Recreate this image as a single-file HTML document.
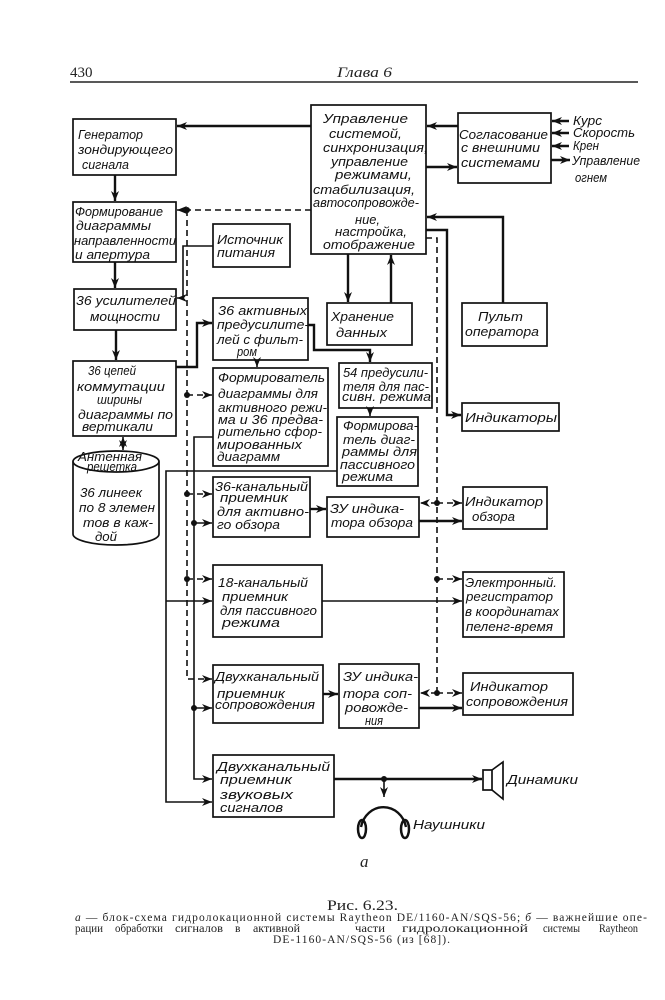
<!DOCTYPE html>
<html><head><meta charset="utf-8"><style>
html,body{margin:0;padding:0;background:#fff;}
svg{display:block;}
.t{font-family:"Liberation Sans","DejaVu Sans",sans-serif;font-style:italic;font-size:13px;fill:#111;}
.c{font-family:"Liberation Serif","DejaVu Serif",serif;font-size:11.5px;fill:#222;}
.b{fill:none;stroke:#111;stroke-width:1.7;}
.k{fill:none;stroke:#111;stroke-width:2.4;}
.n{fill:none;stroke:#111;stroke-width:1.6;}
.d{fill:none;stroke:#111;stroke-width:1.6;stroke-dasharray:6,4;}
</style></head><body>
<svg width="665" height="1000" viewBox="0 0 665 1000" xmlns="http://www.w3.org/2000/svg">
<defs>
<marker id="a" markerUnits="userSpaceOnUse" markerWidth="12" markerHeight="10" refX="10" refY="4" orient="auto"><path d="M0,0 L10,4 L0,8 L3,4 z" fill="#111"/></marker>
<marker id="s" markerUnits="userSpaceOnUse" markerWidth="12" markerHeight="10" refX="10" refY="4" orient="auto-start-reverse"><path d="M0,0 L10,4 L0,8 L3,4 z" fill="#111"/></marker>
</defs>

<!-- header -->
<text x="70" y="77" style="font-family:'Liberation Serif',serif;font-size:15px;fill:#222">430</text>
<text x="337" y="77" textLength="55" lengthAdjust="spacingAndGlyphs" style="font-family:'Liberation Serif',serif;font-style:italic;font-size:15px;fill:#222">Глава 6</text>
<line x1="70" y1="82" x2="638" y2="82" stroke="#222" stroke-width="1.5"/>

<!-- boxes -->
<rect class="b" x="73" y="119" width="103" height="56"/>
<rect class="b" x="73" y="202" width="103" height="60"/>
<rect class="b" x="74" y="289" width="102" height="41"/>
<rect class="b" x="73" y="361" width="103" height="75"/>
<rect class="b" x="213" y="224" width="77" height="43"/>
<rect class="b" x="311" y="105" width="115" height="149"/>
<rect class="b" x="458" y="113" width="93" height="70"/>
<rect class="b" x="327" y="303" width="85" height="42"/>
<rect class="b" x="462" y="303" width="85" height="43"/>
<rect class="b" x="213" y="298" width="95" height="62"/>
<rect class="b" x="213" y="368" width="115" height="98"/>
<rect class="b" x="339" y="363" width="93" height="45"/>
<rect class="b" x="337" y="417" width="81" height="69"/>
<rect class="b" x="462" y="403" width="97" height="28"/>
<rect class="b" x="213" y="477" width="97" height="60"/>
<rect class="b" x="327" y="497" width="92" height="40"/>
<rect class="b" x="463" y="487" width="84" height="42"/>
<rect class="b" x="213" y="565" width="109" height="72"/>
<rect class="b" x="463" y="572" width="101" height="65"/>
<rect class="b" x="213" y="665" width="110" height="58"/>
<rect class="b" x="339" y="664" width="80" height="64"/>
<rect class="b" x="463" y="673" width="110" height="42"/>
<rect class="b" x="213" y="755" width="121" height="62"/>

<!-- cylinder -->
<path class="b" d="M73,461.5 L73,534 A43,11 0 0 0 159,534 L159,461.5"/>
<ellipse class="b" cx="116" cy="461.5" rx="43" ry="10.5"/>

<!-- connectors left/top -->
<line class="k" x1="311" y1="126" x2="177" y2="126" marker-end="url(#a)"/>
<line class="k" x1="115" y1="175" x2="115" y2="201" marker-end="url(#a)"/>
<line class="k" x1="115" y1="262" x2="115" y2="288" marker-end="url(#a)"/>
<line class="k" x1="116" y1="330" x2="116" y2="360" marker-end="url(#a)"/>
<line class="n" x1="123" y1="437" x2="123" y2="450" marker-start="url(#s)" marker-end="url(#s)"/>
<polyline class="n" points="213,246 183,246 183,298 177,298" marker-end="url(#a)"/>
<!-- dashed from control -->
<polyline class="d" points="311,210 187,210 177,210" marker-end="url(#a)"/>
<polyline class="d" points="187,210 187,679 212,679" marker-end="url(#a)"/>
<line class="d" x1="187" y1="395" x2="212" y2="395" marker-end="url(#a)"/>
<line class="d" x1="187" y1="494" x2="212" y2="494" marker-end="url(#a)"/>
<line class="d" x1="187" y1="579" x2="212" y2="579" marker-end="url(#a)"/>
<circle cx="187" cy="210" r="3" fill="#111"/>
<circle cx="187" cy="395" r="3" fill="#111"/>
<circle cx="187" cy="494" r="3" fill="#111"/>
<circle cx="187" cy="579" r="3" fill="#111"/>
<!-- 36 цепей -> 36 active -->
<polyline class="k" points="176,367 197,367 197,323 212,323" marker-end="url(#a)"/>
<!-- 36 active -> 54 -->
<polyline class="k" points="308,325 314,325 314,350 370,350 370,362" marker-end="url(#a)"/>
<line class="n" x1="257" y1="360" x2="257" y2="367" marker-end="url(#a)"/>
<line class="n" x1="370" y1="408" x2="370" y2="416" marker-end="url(#a)"/>
<!-- form active -> receivers -->
<polyline class="n" points="213,437 194,437 194,779 212,779" marker-end="url(#a)"/>
<line class="n" x1="194" y1="523" x2="212" y2="523" marker-end="url(#a)"/>
<line class="n" x1="194" y1="708" x2="212" y2="708" marker-end="url(#a)"/>
<circle cx="194" cy="523" r="3" fill="#111"/>
<circle cx="194" cy="708" r="3" fill="#111"/>
<!-- form passive -> receivers -->
<polyline class="n" points="337,471 166,471 166,802 212,802" marker-end="url(#a)"/>
<line class="n" x1="166" y1="601" x2="212" y2="601" marker-end="url(#a)"/>
<!-- middle row connectors -->
<line class="k" x1="310" y1="509" x2="326" y2="509" marker-end="url(#a)"/>
<line class="k" x1="419" y1="521" x2="462" y2="521" marker-end="url(#a)"/>
<line class="n" x1="322" y1="601" x2="462" y2="601" marker-end="url(#a)"/>
<line class="k" x1="323" y1="694" x2="338" y2="694" marker-end="url(#a)"/>
<line class="k" x1="419" y1="708" x2="462" y2="708" marker-end="url(#a)"/>
<!-- right dashed bus -->
<polyline class="d" points="426,238 437,238 437,693"/>
<line class="d" x1="437" y1="503" x2="420" y2="503" marker-end="url(#a)"/>
<line class="d" x1="437" y1="503" x2="462" y2="503" marker-end="url(#a)"/>
<line class="d" x1="437" y1="579" x2="462" y2="579" marker-end="url(#a)"/>
<line class="d" x1="437" y1="693" x2="420" y2="693" marker-end="url(#a)"/>
<line class="d" x1="437" y1="693" x2="462" y2="693" marker-end="url(#a)"/>
<circle cx="437" cy="503" r="3" fill="#111"/>
<circle cx="437" cy="579" r="3" fill="#111"/>
<circle cx="437" cy="693" r="3" fill="#111"/>
<!-- control -> indicators -->
<polyline class="k" points="426,230 447,230 447,415 461,415" marker-end="url(#a)"/>
<!-- storage -->
<line class="k" x1="348" y1="254" x2="348" y2="302" marker-end="url(#a)"/>
<line class="k" x1="391" y1="303" x2="391" y2="255" marker-end="url(#a)"/>
<!-- pult -->
<polyline class="k" points="503,303 503,217 427,217" marker-end="url(#a)"/>
<!-- soglasovanie -->
<line class="k" x1="458" y1="126" x2="427" y2="126" marker-end="url(#a)"/>
<line class="k" x1="426" y1="167" x2="457" y2="167" marker-end="url(#a)"/>
<line class="k" x1="569" y1="121" x2="552" y2="121" marker-end="url(#a)"/>
<line class="k" x1="569" y1="133" x2="552" y2="133" marker-end="url(#a)"/>
<line class="k" x1="569" y1="146" x2="552" y2="146" marker-end="url(#a)"/>
<line class="k" x1="551" y1="160" x2="570" y2="160" marker-end="url(#a)"/>
<!-- audio -->
<line class="k" x1="334" y1="779" x2="482" y2="779" marker-end="url(#a)"/>
<circle cx="384" cy="779" r="3" fill="#111"/>
<line class="n" x1="384" y1="779" x2="384" y2="797" marker-end="url(#a)"/>
<rect class="b" x="483" y="770" width="9" height="20"/>
<path class="b" d="M492,770 L503,762 L503,799 L492,790"/>
<path class="k" d="M361,827 A23,25 0 0 1 406,827"/>
<ellipse cx="362" cy="829" rx="4" ry="9" fill="none" stroke="#111" stroke-width="2.5"/>
<ellipse cx="405" cy="829" rx="4" ry="9" fill="none" stroke="#111" stroke-width="2.5"/>

<!-- texts -->
<g class="t">
<text x="78" y="139" textLength="65" lengthAdjust="spacingAndGlyphs">Генератор</text>
<text x="78" y="154" textLength="95" lengthAdjust="spacingAndGlyphs">зондирующего</text>
<text x="82" y="169" textLength="47" lengthAdjust="spacingAndGlyphs">сигнала</text>

<text x="75" y="216" textLength="88" lengthAdjust="spacingAndGlyphs">Формирование</text>
<text x="76" y="230" textLength="75" lengthAdjust="spacingAndGlyphs">диаграммы</text>
<text x="74" y="245" textLength="102" lengthAdjust="spacingAndGlyphs">направленности</text>
<text x="75" y="259" textLength="75" lengthAdjust="spacingAndGlyphs">и апертура</text>

<text x="76" y="305" textLength="100" lengthAdjust="spacingAndGlyphs">36 усилителей</text>
<text x="90" y="321" textLength="70" lengthAdjust="spacingAndGlyphs">мощности</text>

<text x="88" y="375" textLength="48" lengthAdjust="spacingAndGlyphs">36 цепей</text>
<text x="77" y="391" textLength="88" lengthAdjust="spacingAndGlyphs">коммутации</text>
<text x="97" y="404" textLength="45" lengthAdjust="spacingAndGlyphs">ширины</text>
<text x="78" y="419" textLength="95" lengthAdjust="spacingAndGlyphs">диаграммы по</text>
<text x="82" y="431" textLength="71" lengthAdjust="spacingAndGlyphs">вертикали</text>

<text x="78" y="461" textLength="64" lengthAdjust="spacingAndGlyphs">Антенная</text>
<text x="87" y="471" textLength="50" lengthAdjust="spacingAndGlyphs">решетка</text>
<text x="80" y="497" textLength="62" lengthAdjust="spacingAndGlyphs">36 линеек</text>
<text x="79" y="512" textLength="76" lengthAdjust="spacingAndGlyphs">по 8 элемен</text>
<text x="83" y="527" textLength="70" lengthAdjust="spacingAndGlyphs">тов в каж-</text>
<text x="95" y="541" textLength="22" lengthAdjust="spacingAndGlyphs">дой</text>

<text x="217" y="244" textLength="66" lengthAdjust="spacingAndGlyphs">Источник</text>
<text x="217" y="257" textLength="58" lengthAdjust="spacingAndGlyphs">питания</text>

<text x="218" y="315" textLength="89" lengthAdjust="spacingAndGlyphs">36 активных</text>
<text x="217" y="329" textLength="92" lengthAdjust="spacingAndGlyphs">предусилите-</text>
<text x="217" y="344" textLength="86" lengthAdjust="spacingAndGlyphs">лей с фильт-</text>
<text x="237" y="356" textLength="20" lengthAdjust="spacingAndGlyphs">ром</text>

<text x="218" y="382" textLength="107" lengthAdjust="spacingAndGlyphs">Формирователь</text>
<text x="218" y="398" textLength="100" lengthAdjust="spacingAndGlyphs">диаграммы для</text>
<text x="218" y="412" textLength="109" lengthAdjust="spacingAndGlyphs">активного режи-</text>
<text x="218" y="424" textLength="105" lengthAdjust="spacingAndGlyphs">ма и 36 предва-</text>
<text x="218" y="436" textLength="104" lengthAdjust="spacingAndGlyphs">рительно сфор-</text>
<text x="217" y="449" textLength="85" lengthAdjust="spacingAndGlyphs">мированных</text>
<text x="217" y="461" textLength="63" lengthAdjust="spacingAndGlyphs">диаграмм</text>

<text x="215" y="491" textLength="93" lengthAdjust="spacingAndGlyphs">36-канальный</text>
<text x="220" y="502" textLength="68" lengthAdjust="spacingAndGlyphs">приемник</text>
<text x="217" y="516" textLength="92" lengthAdjust="spacingAndGlyphs">для активно-</text>
<text x="217" y="529" textLength="63" lengthAdjust="spacingAndGlyphs">го обзора</text>

<text x="323" y="123" textLength="85" lengthAdjust="spacingAndGlyphs">Управление</text>
<text x="329" y="138" textLength="73" lengthAdjust="spacingAndGlyphs">системой,</text>
<text x="323" y="152" textLength="105" lengthAdjust="spacingAndGlyphs">синхронизация,</text>
<text x="331" y="166" textLength="77" lengthAdjust="spacingAndGlyphs">управление</text>
<text x="335" y="179" textLength="77" lengthAdjust="spacingAndGlyphs">режимами,</text>
<text x="313" y="194" textLength="102" lengthAdjust="spacingAndGlyphs">стабилизация,</text>
<text x="313" y="207" textLength="106" lengthAdjust="spacingAndGlyphs">автосопровожде-</text>
<text x="355" y="224" textLength="25" lengthAdjust="spacingAndGlyphs">ние,</text>
<text x="335" y="236" textLength="72" lengthAdjust="spacingAndGlyphs">настройка,</text>
<text x="323" y="249" textLength="92" lengthAdjust="spacingAndGlyphs">отображение</text>

<text x="459" y="139" textLength="89" lengthAdjust="spacingAndGlyphs">Согласование</text>
<text x="461" y="152" textLength="79" lengthAdjust="spacingAndGlyphs">с внешними</text>
<text x="461" y="167" textLength="79" lengthAdjust="spacingAndGlyphs">системами</text>

<text x="573" y="125" textLength="29" lengthAdjust="spacingAndGlyphs">Курс</text>
<text x="573" y="137" textLength="62" lengthAdjust="spacingAndGlyphs">Скорость</text>
<text x="573" y="150" textLength="26" lengthAdjust="spacingAndGlyphs">Крен</text>
<text x="572" y="165" textLength="68" lengthAdjust="spacingAndGlyphs">Управление</text>
<text x="575" y="182" textLength="32" lengthAdjust="spacingAndGlyphs">огнем</text>

<text x="331" y="321" textLength="63" lengthAdjust="spacingAndGlyphs">Хранение</text>
<text x="336" y="337" textLength="51" lengthAdjust="spacingAndGlyphs">данных</text>

<text x="478" y="321" textLength="45" lengthAdjust="spacingAndGlyphs">Пульт</text>
<text x="465" y="336" textLength="74" lengthAdjust="spacingAndGlyphs">оператора</text>

<text x="343" y="377" textLength="85" lengthAdjust="spacingAndGlyphs">54 предусили-</text>
<text x="343" y="391" textLength="86" lengthAdjust="spacingAndGlyphs">теля для пас-</text>
<text x="342" y="401" textLength="89" lengthAdjust="spacingAndGlyphs">сивн. режима</text>

<text x="343" y="430" textLength="75" lengthAdjust="spacingAndGlyphs">Формирова-</text>
<text x="343" y="444" textLength="72" lengthAdjust="spacingAndGlyphs">тель диаг-</text>
<text x="342" y="456" textLength="75" lengthAdjust="spacingAndGlyphs">раммы для</text>
<text x="340" y="469" textLength="75" lengthAdjust="spacingAndGlyphs">пассивного</text>
<text x="342" y="481" textLength="51" lengthAdjust="spacingAndGlyphs">режима</text>

<text x="465" y="422" textLength="92" lengthAdjust="spacingAndGlyphs">Индикаторы</text>

<text x="330" y="513" textLength="74" lengthAdjust="spacingAndGlyphs">ЗУ индика-</text>
<text x="331" y="527" textLength="82" lengthAdjust="spacingAndGlyphs">тора обзора</text>

<text x="465" y="506" textLength="78" lengthAdjust="spacingAndGlyphs">Индикатор</text>
<text x="472" y="521" textLength="43" lengthAdjust="spacingAndGlyphs">обзора</text>

<text x="218" y="587" textLength="90" lengthAdjust="spacingAndGlyphs">18-канальный</text>
<text x="222" y="601" textLength="66" lengthAdjust="spacingAndGlyphs">приемник</text>
<text x="220" y="615" textLength="97" lengthAdjust="spacingAndGlyphs">для пассивного</text>
<text x="222" y="627" textLength="58" lengthAdjust="spacingAndGlyphs">режима</text>

<text x="465" y="587" textLength="92" lengthAdjust="spacingAndGlyphs">Электронный.</text>
<text x="466" y="601" textLength="87" lengthAdjust="spacingAndGlyphs">регистратор</text>
<text x="465" y="616" textLength="94" lengthAdjust="spacingAndGlyphs">в координатах</text>
<text x="466" y="631" textLength="87" lengthAdjust="spacingAndGlyphs">пеленг-время</text>

<text x="215" y="681" textLength="104" lengthAdjust="spacingAndGlyphs">Двухканальный</text>
<text x="217" y="698" textLength="68" lengthAdjust="spacingAndGlyphs">приемник</text>
<text x="215" y="709" textLength="100" lengthAdjust="spacingAndGlyphs">сопровождения</text>

<text x="343" y="681" textLength="75" lengthAdjust="spacingAndGlyphs">ЗУ индика-</text>
<text x="343" y="698" textLength="69" lengthAdjust="spacingAndGlyphs">тора соп-</text>
<text x="345" y="712" textLength="63" lengthAdjust="spacingAndGlyphs">ровожде-</text>
<text x="365" y="725" textLength="18" lengthAdjust="spacingAndGlyphs">ния</text>

<text x="470" y="691" textLength="78" lengthAdjust="spacingAndGlyphs">Индикатор</text>
<text x="466" y="706" textLength="102" lengthAdjust="spacingAndGlyphs">сопровождения</text>

<text x="217" y="771" textLength="113" lengthAdjust="spacingAndGlyphs">Двухканальный</text>
<text x="220" y="784" textLength="72" lengthAdjust="spacingAndGlyphs">приемник</text>
<text x="220" y="799" textLength="73" lengthAdjust="spacingAndGlyphs">звуковых</text>
<text x="220" y="812" textLength="63" lengthAdjust="spacingAndGlyphs">сигналов</text>

<text x="507" y="784" textLength="71" lengthAdjust="spacingAndGlyphs">Динамики</text>
<text x="413" y="829" textLength="72" lengthAdjust="spacingAndGlyphs">Наушники</text>
</g>

<!-- caption -->
<text x="360" y="867" style="font-family:'Liberation Serif',serif;font-style:italic;font-size:17px;fill:#222">а</text>
<text x="327" y="910" textLength="71" lengthAdjust="spacingAndGlyphs" style="font-family:'Liberation Serif',serif;font-size:15px;fill:#222">Рис. 6.23.</text>
<text class="c" x="75" y="921" textLength="572" lengthAdjust="spacing"><tspan font-style="italic">а</tspan> — блок-схема гидролокационной системы Raytheon DE/1160-AN/SQS-56; <tspan font-style="italic">б</tspan> — важнейшие опе-</text>
<g class="c">
<text x="75" y="932" textLength="28" lengthAdjust="spacingAndGlyphs">рации</text>
<text x="115" y="932" textLength="48" lengthAdjust="spacingAndGlyphs">обработки</text>
<text x="175" y="932" textLength="48" lengthAdjust="spacingAndGlyphs">сигналов</text>
<text x="235" y="932">в</text>
<text x="253" y="932" textLength="47" lengthAdjust="spacingAndGlyphs">активной</text>
<text x="355" y="932" textLength="30" lengthAdjust="spacingAndGlyphs">части</text>
<text x="402" y="932" textLength="126" lengthAdjust="spacingAndGlyphs">гидролокационной</text>
<text x="543" y="932" textLength="37" lengthAdjust="spacingAndGlyphs">системы</text>
<text x="599" y="932" textLength="39" lengthAdjust="spacingAndGlyphs">Raytheon</text>
</g>
<text class="c" x="273" y="943" textLength="177" lengthAdjust="spacing">DE-1160-AN/SQS-56 (из [68]).</text>
</svg>
</body></html>
